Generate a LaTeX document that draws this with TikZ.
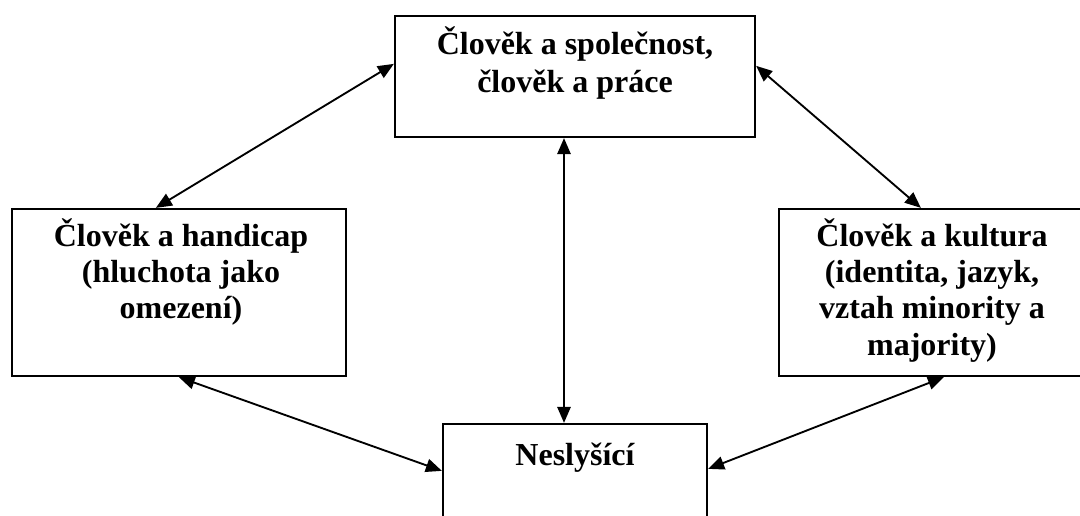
\documentclass[tikz,border=0pt]{standalone}
\usepackage{fontspec}
\setmainfont{Liberation Serif}
\usetikzlibrary{arrows.meta,calc}
\tikzset{
  boxnode/.style={draw=black, line width=1.7pt, rectangle, inner sep=0pt, fill=none},
  txt/.style={anchor=base, inner sep=0pt, font=\fontsize{24pt}{27.6pt}\selectfont\bfseries},
  link/.style={line width=1.4pt, {Triangle[length=12pt,width=10pt]}-{Triangle[length=12pt,width=10pt]}}
}
\begin{document}
\begin{tikzpicture}[x=0.75pt,y=-0.75pt]
\useasboundingbox (0,0) rectangle (1080,516);
\fill[white] (0,0) rectangle (1080,516);
\clip (0,0) rectangle (1080,516);
% boxes
\node[boxnode, minimum width=360*0.75pt, minimum height=121*0.75pt] (topbox) at (575,76.5) {};
\node[boxnode, minimum width=334*0.75pt, minimum height=167*0.75pt] (leftbox) at (179,292.5) {};
\node[boxnode, minimum width=306*0.75pt, minimum height=167*0.75pt] (rightbox) at (932,292.5) {};
\node[boxnode, minimum width=264*0.75pt, minimum height=121*0.75pt] (bottombox) at (575,484.5) {};
% texts
\node[txt] (t1) at (575,55) {Člověk a společnost,};
\node[txt] (t2) at (575,93) {člověk a práce};
\node[txt] (l1) at (181,247) {Člověk a handicap};
\node[txt] (l2) at (181,283) {(hluchota jako};
\node[txt] (l3) at (181,319) {omezení)};
\node[txt] (r1) at (932,247) {Člověk a kultura};
\node[txt] (r2) at (932,283) {(identita, jazyk,};
\node[txt] (r3) at (932,319) {vztah minority a};
\node[txt] (r4) at (932,355) {majority)};
\node[txt] (b1) at (575,465) {Neslyšící};
% connector end points
\coordinate (a1) at ($(topbox.north west)+(0,49)$);
\coordinate (a2) at ($(leftbox.north west)+(145,0)$);
\coordinate (b1c) at ($(topbox.north east)+(0,51)$);
\coordinate (b2c) at ($(rightbox.north west)+(143,0)$);
\coordinate (c1) at ($(topbox.south)+(-11,0)$);
\coordinate (c2) at ($(bottombox.north)+(-11,0)$);
\coordinate (d1) at ($(leftbox.south west)+(168,0)$);
\coordinate (d2) at ($(bottombox.north west)+(0,48)$);
\coordinate (e1) at ($(rightbox.south west)+(166,0)$);
\coordinate (e2) at ($(bottombox.north east)+(0,46)$);
% connectors
\draw[link] (a1) -- (a2);
\draw[link] (b1c) -- (b2c);
\draw[link] (c1) -- (c2);
\draw[link] (d1) -- (d2);
\draw[link] (e1) -- (e2);
\end{tikzpicture}
\end{document}
